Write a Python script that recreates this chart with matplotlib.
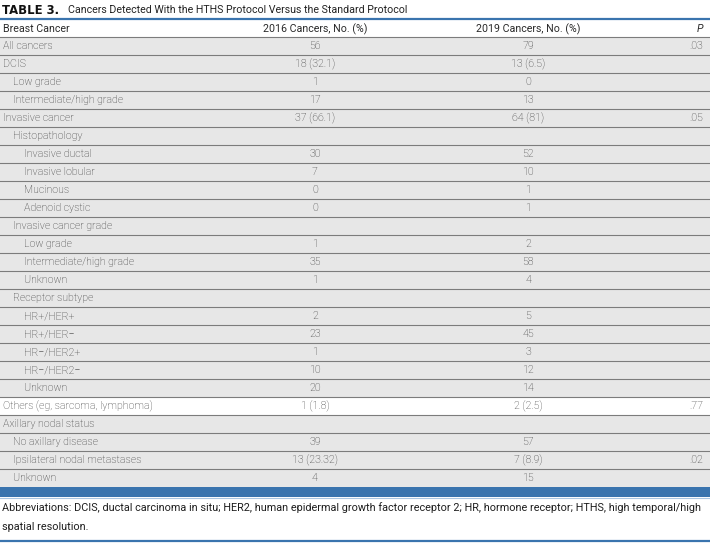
import matplotlib.pyplot as plt
from matplotlib.patches import Rectangle

# table content
labels = ['All cancers', 'DCIS', 'Low grade', 'Intermediate/high grade', 'Invasive cancer',
          'Histopathology', 'Invasive ductal', 'Invasive lobular', 'Mucinous', 'Adenoid cystic',
          'Invasive cancer grade', 'Low grade', 'Intermediate/high grade', 'Unknown',
          'Receptor subtype', 'HR+/HER+', 'HR+/HER\u2212', 'HR\u2212/HER2+', 'HR\u2212/HER2\u2212', 'Unknown',
          'Others (eg, sarcoma, lymphoma)', 'Axillary nodal status', 'No axillary disease',
          'Ipsilateral nodal metastases', 'Unknown']
levels = [0, 0, 1, 1, 0, 1, 2, 2, 2, 2, 1, 2, 2, 2, 1, 2, 2, 2, 2, 2, 0, 0, 1, 1, 1]
cancers_2016 = ['56', '18 (32.1)', '1', '17', '37 (66.1)', '', '30', '7', '0', '0', '', '1', '35', '1',
                '', '2', '23', '1', '10', '20', '1 (1.8)', '', '39', '13 (23.32)', '4']
cancers_2019 = ['79', '13 (6.5)', '0', '13', '64 (81)', '', '52', '10', '1', '1', '', '2', '58', '4',
                '', '5', '45', '3', '12', '14', '2 (2.5)', '', '57', '7 (8.9)', '15']
p_values = ['.03', '', '', '', '.05', '', '', '', '', '', '', '', '', '', '', '', '', '', '', '',
            '.77', '', '', '.02', '']
headers = ['Breast Cancer', '2016 Cancers, No. (%)', '2019 Cancers, No. (%)', 'P']
title_bold = 'TABLE 3.'
title_rest = 'Cancers Detected With the HTHS Protocol Versus the Standard Protocol'
footnote = ['Abbreviations: DCIS, ductal carcinoma in situ; HER2, human epidermal growth factor receptor 2; '
            'HR, hormone receptor; HTHS, high temporal/high',
            'spatial resolution.']

W, H = 710, 543
BLUE = '#3a74ae'
GRAY_BG = '#e7e7e7'
LINE = '#7c7c7c'
TXT = '#333333'
FS = 7.7
FONT = 'Roboto'

fig = plt.figure(figsize=(W / 100, H / 100), dpi=100)
ax = fig.add_axes([0, 0, 1, 1])
ax.set_xlim(0, W)
ax.set_ylim(H, 0)
ax.axis('off')

# title
t = ax.text(2, 10, title_bold, fontsize=8.4, fontweight='bold', family='DejaVu Sans',
            color='#111111', va='center', ha='left')
fig.canvas.draw()
bb = t.get_window_extent()
x_end = ax.transData.inverted().transform((bb.x1, bb.y0))[0]
ax.text(x_end + 9, 10, title_rest, fontsize=7.7, family=FONT, color='#222222',
        va='center', ha='left')

ax.plot([0, W], [19, 19], color=BLUE, lw=1.6, solid_capstyle='butt')

top = 37
rh = 18
x_lab = {0: 3, 1: 13, 2: 24}
x_2016, x_2019, x_p = 315, 528, 703

# header row
hy = 29
ax.text(3, hy, headers[0], fontsize=FS, family=FONT, color='#2a2a2a', va='center')
ax.text(x_2016, hy, headers[1], fontsize=FS, family=FONT, color='#2a2a2a', va='center', ha='center')
ax.text(x_2019, hy, headers[2], fontsize=FS, family=FONT, color='#2a2a2a', va='center', ha='center')
ax.text(x_p, hy, headers[3], fontsize=FS, family=FONT, color='#2a2a2a', va='center', ha='right',
        style='italic')

for i, lab in enumerate(labels):
    y0 = top + i * rh
    bg = 'white' if lab.startswith('Others') else GRAY_BG
    ax.add_patch(Rectangle((0, y0), W, rh, facecolor=bg, edgecolor='none'))
    ax.plot([0, W], [y0, y0], color=LINE, lw=0.8)
    yc = y0 + rh / 2 + 0.3
    ax.text(x_lab[levels[i]], yc, lab, fontsize=FS, family=FONT, fontweight='light',
            color=TXT, va='center', ha='left')
    ax.text(x_2016, yc, cancers_2016[i], fontsize=FS, family=FONT, fontweight='light',
            color=TXT, va='center', ha='center')
    ax.text(x_2019, yc, cancers_2019[i], fontsize=FS, family=FONT, fontweight='light',
            color=TXT, va='center', ha='center')
    ax.text(x_p, yc, p_values[i], fontsize=FS, family=FONT, fontweight='light',
            color=TXT, va='center', ha='right')

bottom = top + len(labels) * rh
ax.add_patch(Rectangle((0, bottom), W, 10, facecolor=BLUE, edgecolor='none'))
ax.plot([0, W], [bottom + 10.5, bottom + 10.5], color='#a9c6e2', lw=0.8)

ax.text(2, 508, footnote[0], fontsize=7.8, family=FONT, color='#1e1e1e', va='center', ha='left')
ax.text(2, 527, footnote[1], fontsize=7.8, family=FONT, color='#1e1e1e', va='center', ha='left')
ax.plot([0, W], [541, 541], color=BLUE, lw=1.6, solid_capstyle='butt')

fig.savefig('out.png', dpi=100)
